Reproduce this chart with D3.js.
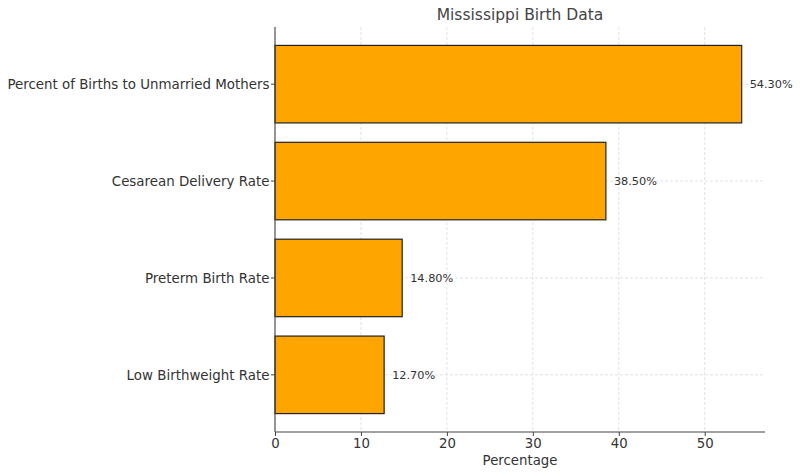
<!DOCTYPE html>
<html><head><meta charset="utf-8">
<script src="https://cdn.jsdelivr.net/npm/d3@7"></script>
<style>body{margin:0;background:#fff}svg{display:block}text{font-family:"DejaVu Sans",sans-serif}</style>
</head><body><svg id="c" width="800" height="475"></svg>
<script>
const categories = ["Percent of Births to Unmarried Mothers","Cesarean Delivery Rate","Preterm Birth Rate","Low Birthweight Rate"];
const values = [54.3, 38.5, 14.8, 12.7];
const xTicks = [0,10,20,30,40,50];
const title = "Mississippi Birth Data";
const xLabel = "Percentage";

(function(){
const svg = d3.select("#c");
const L = 275, R = 765, T = 27, B = 432;
const x = d3.scaleLinear().domain([0, d3.max(values)*1.05]).range([L, R]);
const n = categories.length;
const y = d3.scaleLinear().domain([-0.59, n - 1 + 0.59]).range([T, B]);
const bh = 0.8;
const textCol = "#333";

const g = svg.append("g");
g.selectAll(".vg").data(xTicks).join("line")
  .attr("x1", d=>x(d)).attr("x2", d=>x(d)).attr("y1", T).attr("y2", B)
  .attr("stroke", "#dadada").attr("stroke-width", 0.8).attr("stroke-dasharray", "3,2");
g.selectAll(".hg").data(categories).join("line")
  .attr("x1", L).attr("x2", R).attr("y1", (d,i)=>y(i)).attr("y2", (d,i)=>y(i))
  .attr("stroke", "#dadada").attr("stroke-width", 0.8).attr("stroke-dasharray", "3,2");

svg.selectAll(".bar").data(values).join("rect")
  .attr("x", x(0)).attr("y", (d,i)=>y(i - bh/2))
  .attr("width", d=>x(d)-x(0)).attr("height", (d,i)=>y(i+bh/2)-y(i-bh/2))
  .attr("fill", "#FFA500").attr("stroke", "#222").attr("stroke-width", 1.2);

svg.selectAll(".vl").data(values).join("text")
  .attr("x", d=>x(d)+8).attr("y", (d,i)=>y(i)).attr("dy", "0.35em")
  .attr("font-size", 11.3).attr("fill", textCol)
  .text(d=>d.toFixed(2)+"%");

const xa = svg.append("g").attr("transform", `translate(0,${B})`)
  .call(d3.axisBottom(x).tickValues(xTicks).tickSize(4).tickPadding(3).tickFormat(d3.format("d")));
xa.select(".domain").attr("stroke", "#444").attr("stroke-width", 1.1).attr("d", `M${L},0H${R}`);
xa.selectAll(".tick line").attr("stroke", "#444");
xa.selectAll(".tick text").attr("font-size", 13.3).attr("fill", textCol).attr("font-family", "DejaVu Sans");

const yPos = d3.scaleOrdinal().domain(categories).range(categories.map((c,i)=>y(i)));
const ya = svg.append("g").attr("transform", `translate(${L},0)`);
ya.append("line").attr("x1",0).attr("x2",0).attr("y1",T).attr("y2",B).attr("stroke","#444").attr("stroke-width",1.1);
ya.selectAll(".yt").data(categories).join("line")
  .attr("x1",-4).attr("x2",0).attr("y1",d=>yPos(d)).attr("y2",d=>yPos(d)).attr("stroke","#444");
ya.selectAll(".yl").data(categories).join("text")
  .attr("x",-5.5).attr("y",d=>yPos(d)).attr("dy","0.35em").attr("text-anchor","end")
  .attr("font-size",13.4).attr("fill",textCol).text(d=>d);

svg.append("text").attr("x",(L+R)/2).attr("y",20).attr("text-anchor","middle")
  .attr("font-size",15.5).attr("fill","#444").text(title);
svg.append("text").attr("x",(L+R)/2).attr("y",465).attr("text-anchor","middle")
  .attr("font-size",13.3).attr("fill",textCol).text(xLabel);
})();
</script></body></html>
